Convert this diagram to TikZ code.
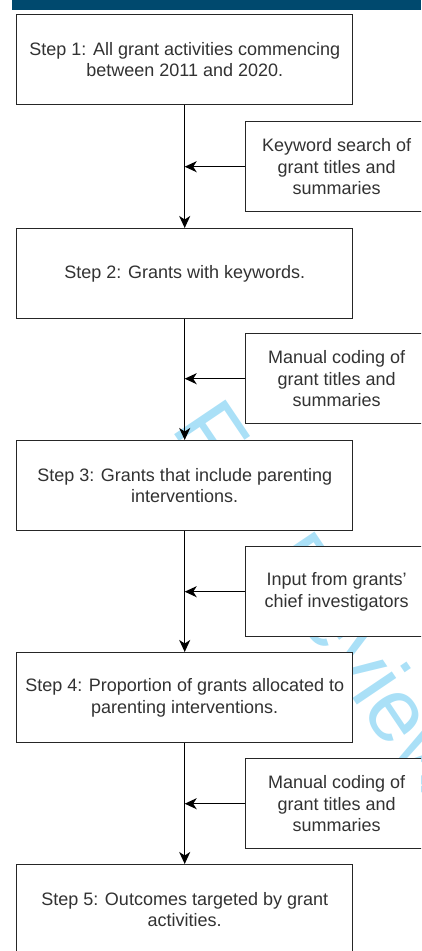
\documentclass[tikz,border=0pt]{standalone}
\usepackage{fontspec}
\setmainfont{Liberation Sans}
\usetikzlibrary{arrows.meta}
\definecolor{barblue}{RGB}{0,73,110}
\definecolor{txt}{RGB}{50,50,50}
\definecolor{wm}{RGB}{170,224,247}
\begin{document}
\begin{tikzpicture}[x=1pt,y=-1pt,
  stepbox/.style={draw=black!85,line width=1.4pt,fill=white,minimum width=336pt,minimum height=90pt,anchor=north west,inner sep=0pt,align=center,text=txt,font=\fontsize{18}{21.5}\selectfont},
  sidebox/.style={stepbox,minimum width=182pt},
  conn/.style={line width=1.5pt,-{Stealth[length=12pt,width=11pt,inset=3.5pt]}}]
\path[use as bounding box,clip] (0,0) rectangle (421,951);
\fill[barblue] (12,0) rectangle (421,10);
\node[anchor=base west,rotate=-56,text=wm,inner sep=0pt,font=\fontsize{90}{90}\selectfont] (wmark) at (170,428) {For Review};
\node[stepbox] (s1) at (16,14) {Step 1: All grant activities commencing\\between 2011 and 2020.};
\node[stepbox] (s2) at (16,228) {Step 2: Grants with keywords.};
\node[stepbox] (s3) at (16,440) {Step 3: Grants that include parenting\\interventions.};
\node[stepbox] (s4) at (16,652) {Step 4: Proportion of grants allocated to\\parenting interventions.};
\node[stepbox] (s5) at (16,864) {Step 5: Outcomes targeted by grant\\activities.};
\node[sidebox] (k1) at (245,121) {Keyword search of\\grant titles and\\summaries};
\node[sidebox] (k2) at (245,333) {Manual coding of\\grant titles and\\summaries};
\node[sidebox] (k3) at (245,546) {Input from grants'\\chief investigators};
\node[sidebox] (k4) at (245,758) {Manual coding of\\grant titles and\\summaries};
\draw[conn] (s1.south) -- (s2.north);
\draw[conn] (s2.south) -- (s3.north);
\draw[conn] (s3.south) -- (s4.north);
\draw[conn] (s4.south) -- (s5.north);
\draw[conn] (k1.west) -- (k1.west -| s1.south);
\draw[conn] (k2.west) -- (k2.west -| s2.south);
\draw[conn] (k3.west) -- (k3.west -| s3.south);
\draw[conn] (k4.west) -- (k4.west -| s4.south);
\end{tikzpicture}
\end{document}
